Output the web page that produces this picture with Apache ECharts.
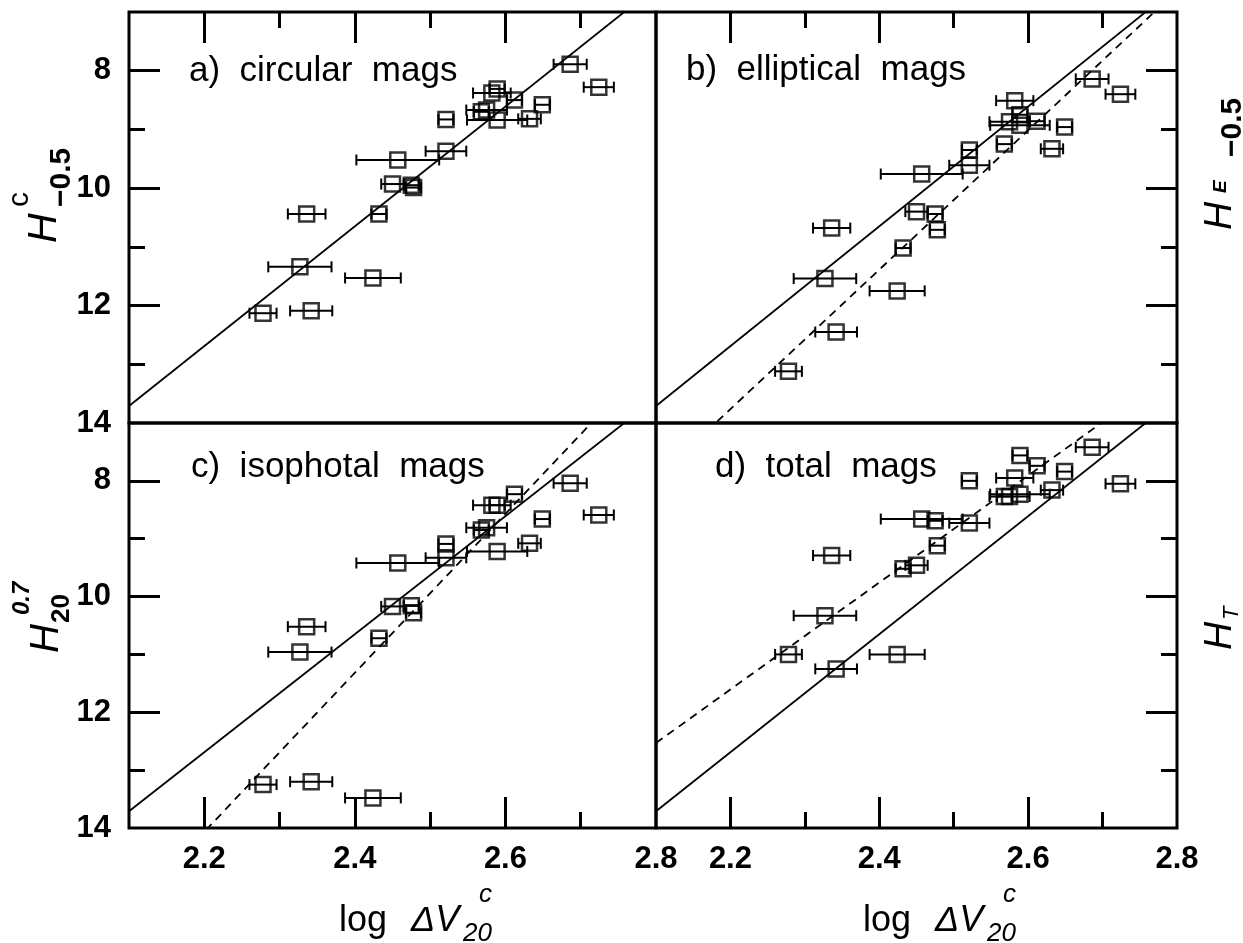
<!DOCTYPE html>
<html>
<head>
<meta charset="utf-8">
<title>Tully-Fisher H band</title>
<script src="https://cdn.jsdelivr.net/npm/echarts@6/dist/echarts.min.js"></script>
<style>
  html, body { margin: 0; padding: 0; background: #fff; }
  #chart { width: 1243px; height: 943px; }
</style>
</head>
<body>
<div id="chart"></div>
<script>
// log dV20c of each galaxy and its error (same galaxies in all four panels)
const logV    = [2.278, 2.327, 2.336, 2.342, 2.424, 2.432, 2.450, 2.457, 2.475, 2.478, 2.521,
                 2.521, 2.568, 2.575, 2.582, 2.589, 2.589, 2.612, 2.632, 2.649, 2.686, 2.724];
const logVErr = [0.018, 0.042, 0.025, 0.028, 0.037, 0.010, 0.015, 0.055, 0.010, 0.010, 0.010,
                 0.027, 0.010, 0.027, 0.025, 0.010, 0.040, 0.010, 0.015, 0.010, 0.022, 0.020];

// H magnitudes, one list per panel
const magCirc = [12.13, 11.34, 10.44, 12.09, 11.53, 10.44, 9.93, 9.52, 9.95, 9.99, 8.83,
                 9.37, 8.70, 8.67, 8.38, 8.31, 8.84, 8.50, 8.82, 8.58, 7.89, 8.28];
const magEll  = [13.12, 11.54, 10.68, 12.45, 11.75, 11.02, 10.40, 9.76, 10.44, 10.71, 9.35,
                 9.61, 9.25, 8.87, 8.51, 8.75, 8.93, 8.86, 9.33, 8.96, 8.14, 8.40];
const magIso  = [13.25, 10.96, 10.52, 13.20, 13.48, 10.72, 10.17, 9.42, 10.16, 10.28, 9.09,
                 9.33, 8.85, 8.81, 8.42, 8.42, 9.22, 8.23, 9.08, 8.66, 8.04, 8.59];
const magTot  = [11.00, 10.33, 9.29, 11.25, 11.00, 9.52, 9.46, 8.66, 8.69, 9.12, 8.00,
                 8.73, 8.27, 8.27, 7.95, 7.56, 8.23, 7.74, 8.16, 7.84, 7.42, 8.05];

// fitted relations (end points at the axis limits)
const fitSolid = [[2.1, 13.71], [2.8, 6.57]];
const fitEll   = [[2.1, 14.95], [2.8, 6.64]];
const fitIso   = [[2.1, 15.44], [2.8, 5.82]];
const fitTot   = [[2.1, 12.53], [2.8, 6.06]];

// ticks and labels
const xMajor = [2.2, 2.4, 2.6];
const xMinor = [2.3, 2.5, 2.7];
const xLabels = [2.2, 2.4, 2.6, 2.8];
const yMajor = [8, 10, 12];
const yMinor = [9, 11, 13];
const yLabels = [8, 10, 12, 14];

const panelNames = ['a)  circular  mags', 'b)  elliptical  mags', 'c)  isophotal  mags', 'd)  total  mags'];

const font = "'Liberation Sans', Arial, sans-serif";
const black = '#000';

const grids = [
  {left: 129, top: 12, width: 527, height: 411},
  {left: 656, top: 12, width: 521, height: 411},
  {left: 129, top: 423, width: 527, height: 405},
  {left: 656, top: 423, width: 521, height: 405}
];
const panels = [
  {mags: magCirc, dashed: null, xPos: 'top', yPos: 'left'},
  {mags: magEll, dashed: fitEll, xPos: 'top', yPos: 'right'},
  {mags: magIso, dashed: fitIso, xPos: 'bottom', yPos: 'left'},
  {mags: magTot, dashed: fitTot, xPos: 'bottom', yPos: 'right'}
];

const xAxes = [];
const yAxes = [];
const series = [];

panels.forEach((p, i) => {
  const showX = p.xPos === 'bottom';
  const showY = p.yPos === 'left';
  // long ticks on even steps, short ones between
  [[xMajor, 31], [xMinor, 16]].forEach(([vals, len], k) => {
    xAxes.push({
      gridIndex: i, type: 'value', min: 2.1, max: 2.8, position: p.xPos,
      axisLine: {show: false}, splitLine: {show: false},
      axisTick: {show: true, inside: true, length: len, customValues: vals,
                 lineStyle: {color: black, width: 3}},
      axisLabel: {show: showX && k === 0, customValues: xLabels, margin: 16,
                  fontSize: 31, fontWeight: 'bold', color: black, fontFamily: font,
                  formatter: v => v.toFixed(1)}
    });
  });
  [[yMajor, 31], [yMinor, 16]].forEach(([vals, len], k) => {
    yAxes.push({
      gridIndex: i, type: 'value', min: 7, max: 14, inverse: true, position: p.yPos,
      axisLine: {show: false}, splitLine: {show: false},
      axisTick: {show: true, inside: true, length: len, customValues: vals,
                 lineStyle: {color: black, width: 3}},
      axisLabel: {show: showY && k === 0, customValues: yLabels, margin: 18,
                  fontSize: 31, fontWeight: 'bold', color: black, fontFamily: font}
    });
  });

  const xi = i * 2;
  series.push({
    type: 'line', xAxisIndex: xi, yAxisIndex: xi, data: fitSolid, symbol: 'none',
    clip: true, silent: true, lineStyle: {color: black, width: 1.8}
  });
  if (p.dashed) {
    series.push({
      type: 'line', xAxisIndex: xi, yAxisIndex: xi, data: p.dashed, symbol: 'none',
      clip: true, silent: true, lineStyle: {color: black, width: 1.8, type: [8, 6]}
    });
  }
  // horizontal error bars with end caps
  series.push({
    type: 'custom', xAxisIndex: xi, yAxisIndex: xi,
    data: logV.map((x, j) => [x, p.mags[j], logVErr[j]]),
    encode: {x: 0, y: 1},
    renderItem: (params, api) => {
      const x = api.value(0), y = api.value(1), e = api.value(2);
      const a = api.coord([x - e, y]);
      const b = api.coord([x + e, y]);
      const st = {stroke: black, lineWidth: 2};
      return {type: 'group', children: [
        {type: 'line', shape: {x1: a[0], y1: a[1], x2: b[0], y2: b[1]}, style: st},
        {type: 'line', shape: {x1: a[0], y1: a[1] - 5.5, x2: a[0], y2: a[1] + 5.5}, style: st},
        {type: 'line', shape: {x1: b[0], y1: b[1] - 5.5, x2: b[0], y2: b[1] + 5.5}, style: st}
      ]};
    }
  });
  series.push({
    type: 'scatter', xAxisIndex: xi, yAxisIndex: xi,
    data: logV.map((x, j) => [x, p.mags[j]]),
    symbol: 'rect', symbolSize: 15,
    itemStyle: {color: 'rgba(0,0,0,0)', borderColor: black, borderWidth: 2.5}
  });
});

function txt(t, x, y, f) {
  return {type: 'text', x: x, y: y, silent: true,
          style: {text: t, font: f + ' ' + font, fill: black, verticalAlign: 'middle'}};
}

const graphics = [];
// panel names
const namePos = [[189, 71], [686, 70], [191, 467], [715, 467]];
panelNames.forEach((t, i) => graphics.push(txt(t, namePos[i][0], namePos[i][1], '35px')));

// x axis titles: log ΔV_20^c
[0, 524].forEach(dx => {
  graphics.push({
    type: 'group', x: 339 + dx, y: 921, silent: true,
    children: [
      txt('log', 0, 0, '36px'),
      txt('ΔV', 72, 0, 'italic 36px'),
      txt('20', 124, 13, 'italic 26px'),
      txt('c', 140, -26, 'italic 26px')
    ]
  });
});

// y axis titles, rotated to read upward; parts: [text, along, across, font]
function yTitle(x, y, parts) {
  return {
    type: 'group', x: x, y: y, rotation: Math.PI / 2, silent: true,
    children: parts.map(q => txt(q[0], q[1], q[2], q[3]))
  };
}
graphics.push(yTitle(58, 243, [['H', 0, -13, 'italic 41px'], ['c', 36, -38, '30px'], ['\u22120.5', 36, 4, 'bold 30px']]));
graphics.push(yTitle(60, 653, [['H', 0, -13, 'italic 40px'], ['0.7', 38, -38, 'bold italic 24px'], ['20', 30, 2, 'bold 26px']]));
graphics.push(yTitle(1233, 230, [['H', 0, -13, 'italic 39px'], ['E', 37, -12, 'bold italic 19px'], ['\u22120.5', 73, 0, 'bold 30px']]));
graphics.push(yTitle(1233, 650, [['H', 0, -13, 'italic 39px'], ['T', 30, -1, 'italic 22px']]));

const option = {
  animation: false,
  backgroundColor: '#fff',
  grid: grids.map(g => Object.assign({show: true, borderColor: black, borderWidth: 3,
                                       backgroundColor: 'rgba(0,0,0,0)'}, g)),
  xAxis: xAxes,
  yAxis: yAxes,
  series: series,
  graphic: graphics
};

const chart = echarts.init(document.getElementById('chart'));
chart.setOption(option);
</script>
</body>
</html>
